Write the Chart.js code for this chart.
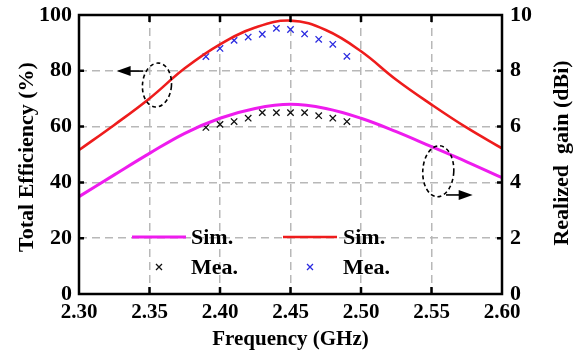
<!DOCTYPE html>
<html>
<head>
<meta charset="utf-8">
<script src="https://cdn.jsdelivr.net/npm/chart.js@4.4.1/dist/chart.umd.min.js"></script>
<style>
  html, body { margin: 0; padding: 0; background: #fff; }
  #wrap { width: 578px; height: 352px; }
</style>
</head>
<body>
<div id="wrap"><canvas id="chart"></canvas></div>
<script>
// simulated curves (GHz, %, dBi)
const freqSim = [2.300, 2.325, 2.350, 2.375, 2.400, 2.425, 2.450, 2.475, 2.500, 2.525, 2.550, 2.575, 2.600];
const effSim  = [51.6, 60.6, 70.1, 80.9, 89.5, 95.5, 98.0, 94.6, 87.0, 76.8, 67.9, 59.6, 52.2];
const gainSim = [3.49, 4.27, 5.04, 5.76, 6.30, 6.65, 6.80, 6.65, 6.30, 5.82, 5.28, 4.74, 4.17];

// measured points
const freqMea = [2.39, 2.40, 2.41, 2.42, 2.43, 2.44, 2.45, 2.46, 2.47, 2.48, 2.49];
const effMea  = [85.1, 88.0, 90.9, 92.1, 93.1, 95.2, 94.8, 93.2, 91.3, 89.5, 85.2];
const gainMea = [5.97, 6.08, 6.18, 6.30, 6.50, 6.50, 6.50, 6.50, 6.39, 6.30, 6.18];

const xTicks  = [2.30, 2.35, 2.40, 2.45, 2.50, 2.55, 2.60];
const effTicks  = [0, 20, 40, 60, 80, 100];
const gainTicks = [0, 2, 4, 6, 8, 10];

const serif = "'Liberation Serif', 'Times New Roman', serif";

const pts = (xs, ys) => xs.map((x, i) => ({ x: x, y: ys[i] }));

// box, inward ticks, ellipses with arrows, legend, y titles
const extras = {
  id: 'extras',
  afterDatasetsDraw(chart) {
    const { ctx, chartArea: a, scales } = chart;
    const sx = scales.x, sy = scales.y, sy2 = scales.y2;
    ctx.save();
    ctx.strokeStyle = '#000';
    ctx.lineWidth = 2.5;
    ctx.strokeRect(a.left, a.top, a.right - a.left, a.bottom - a.top);

    ctx.beginPath();
    xTicks.slice(1, -1).forEach(v => {
      const px = sx.getPixelForValue(v);
      ctx.moveTo(px, a.top); ctx.lineTo(px, a.top + 7);
      ctx.moveTo(px, a.bottom); ctx.lineTo(px, a.bottom - 7);
    });
    effTicks.slice(1, -1).forEach(v => {
      const py = sy.getPixelForValue(v);
      ctx.moveTo(a.left, py); ctx.lineTo(a.left + 5, py);
    });
    gainTicks.slice(1, -1).forEach(v => {
      const py = sy2.getPixelForValue(v);
      ctx.moveTo(a.right, py); ctx.lineTo(a.right - 5, py);
    });
    ctx.stroke();

    // dashed ellipses (data coords) + arrows
    const ellipse = (cx, cy, rx, ry, rot) => {
      ctx.save();
      ctx.setLineDash([4, 3]);
      ctx.lineWidth = 1.6;
      ctx.beginPath();
      ctx.ellipse(sx.getPixelForValue(cx), sy.getPixelForValue(cy), rx, ry, rot, 0, Math.PI * 2);
      ctx.stroke();
      ctx.restore();
    };
    const arrow = (x0, x1, yv) => {
      const p0 = sx.getPixelForValue(x0), p1 = sx.getPixelForValue(x1), py = sy.getPixelForValue(yv);
      const dir = Math.sign(p1 - p0);
      ctx.save();
      ctx.lineWidth = 1.6;
      ctx.beginPath();
      ctx.moveTo(p0, py); ctx.lineTo(p1 - dir * 10, py);
      ctx.stroke();
      ctx.fillStyle = '#000';
      ctx.beginPath();
      ctx.moveTo(p1, py);
      ctx.lineTo(p1 - dir * 14, py - 5);
      ctx.lineTo(p1 - dir * 14, py + 5);
      ctx.closePath();
      ctx.fill();
      ctx.restore();
    };
    ellipse(2.3553, 74.9, 14.5, 22, 0.08);
    arrow(2.3456, 2.3267, 79.9);
    ellipse(2.5548, 44.0, 15.5, 25.5, 0.05);
    arrow(2.5603, 2.5792, 35.5);

    // legend
    const ds = chart.data.datasets;
    ctx.font = 'bold 22px ' + serif;
    ctx.fillStyle = '#000';
    ctx.textBaseline = 'middle';
    ctx.textAlign = 'left';
    const cols = [
      { line: ds[2], mark: ds[3], x0: a.left + 53, tx: a.left + 112 },
      { line: ds[0], mark: ds[1], x0: a.left + 204, tx: a.left + 264 }
    ];
    const r1 = a.top + 222, r2 = a.top + 252;
    cols.forEach(c => {
      ctx.save();
      ctx.strokeStyle = c.line.borderColor;
      ctx.lineWidth = c.line.borderWidth;
      ctx.beginPath();
      ctx.moveTo(c.x0, r1); ctx.lineTo(c.x0 + 54, r1);
      ctx.stroke();
      const mx = c.x0 + 27, r = 3;
      ctx.strokeStyle = c.mark.borderColor;
      ctx.lineWidth = c.mark.borderWidth;
      ctx.beginPath();
      ctx.moveTo(mx - r, r2 - r); ctx.lineTo(mx + r, r2 + r);
      ctx.moveTo(mx + r, r2 - r); ctx.lineTo(mx - r, r2 + r);
      ctx.stroke();
      ctx.restore();
      ctx.fillText(c.line.label, c.tx, r1 + 1);
      ctx.fillText(c.mark.label, c.tx, r2 + 1);
    });

    // rotated y titles (both read bottom to top)
    ctx.font = 'bold 22px ' + serif;
    ctx.textAlign = 'center';
    const vTitle = (txt, x, y) => {
      ctx.save();
      ctx.translate(x, y);
      ctx.rotate(-Math.PI / 2);
      ctx.fillText(txt, 0, 0);
      ctx.restore();
    };
    vTitle('Total Efficiency (%)', 27, 157);
    vTitle('Realized  gain (dBi)', 562, 153);
    ctx.restore();
  }
};

const gridColor = '#b8b8b8';
const fixV = w => s => { s.width = w; s.paddingTop = 0; s.paddingBottom = 0; };

new Chart(document.getElementById('chart'), {
  type: 'line',
  data: {
    datasets: [
      { label: 'Sim.', data: pts(freqSim, effSim), yAxisID: 'y', borderColor: '#ee1c1c',
        borderWidth: 2.6, pointRadius: 0, tension: 0.4 },
      { label: 'Mea.', data: pts(freqMea, effMea), yAxisID: 'y', showLine: false, borderColor: '#2a2ae0',
        borderWidth: 1.3, pointStyle: 'crossRot', pointRadius: 4.5 },
      { label: 'Sim.', data: pts(freqSim, gainSim), yAxisID: 'y2', borderColor: '#ee1cee',
        borderWidth: 3, pointRadius: 0, tension: 0.4 },
      { label: 'Mea.', data: pts(freqMea, gainMea), yAxisID: 'y2', showLine: false, borderColor: '#111',
        borderWidth: 1.3, pointStyle: 'crossRot', pointRadius: 4.5 }
    ]
  },
  options: {
    responsive: true,
    maintainAspectRatio: false,
    animation: false,
    layout: { padding: { top: 15, left: 0, right: 0, bottom: 0 } },
    plugins: { legend: { display: false }, tooltip: { enabled: false } },
    scales: {
      x: {
        type: 'linear', min: 2.3, max: 2.6,
        afterBuildTicks: s => { s.ticks = xTicks.map(v => ({ value: v })); },
        afterFit: s => { s.height = 58; },
        grid: { color: gridColor, lineWidth: 1.5, drawTicks: false },
        border: { display: false, dash: [8, 5] },
        ticks: { color: '#000', padding: 6, font: { family: serif, size: 21, weight: 'bold' },
                 callback: v => v.toFixed(2), maxRotation: 0 },
        title: { display: true, text: 'Frequency (GHz)', color: '#000', padding: { top: 0, bottom: 0 },
                 font: { family: serif, size: 21, weight: 'bold' } }
      },
      y: {
        position: 'left', min: 0, max: 100,
        afterBuildTicks: s => { s.ticks = effTicks.map(v => ({ value: v })); },
        afterFit: fixV(79),
        grid: { color: gridColor, lineWidth: 1.5, drawTicks: false },
        border: { display: false, dash: [8, 5] },
        ticks: { color: '#000', padding: 7, font: { family: serif, size: 22, weight: 'bold' } }
      },
      y2: {
        position: 'right', min: 0, max: 10,
        afterBuildTicks: s => { s.ticks = gainTicks.map(v => ({ value: v })); },
        afterFit: fixV(76),
        grid: { display: false, drawTicks: false },
        border: { display: false },
        ticks: { color: '#000', padding: 8, font: { family: serif, size: 22, weight: 'bold' } }
      }
    }
  },
  plugins: [extras]
});
</script>
</body>
</html>
